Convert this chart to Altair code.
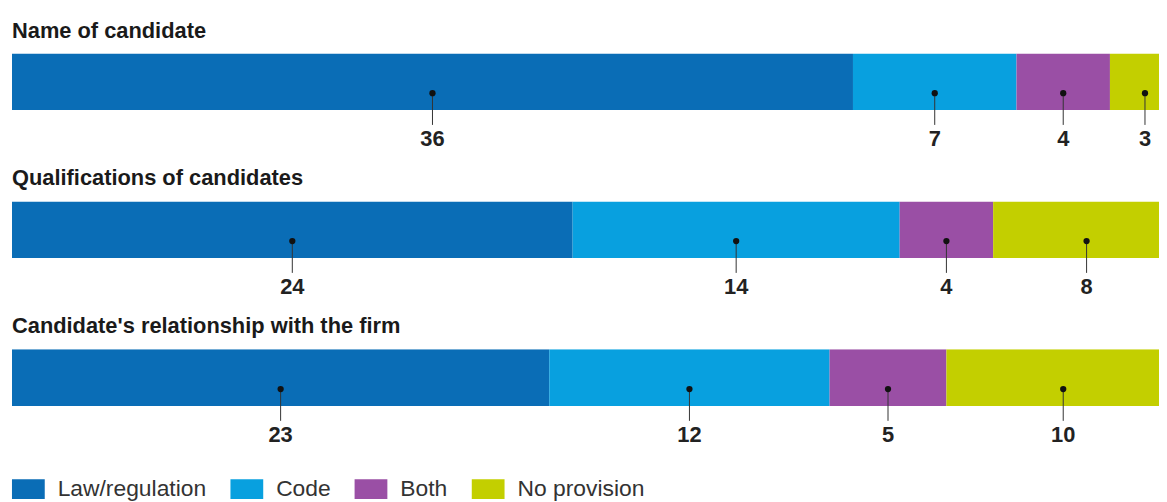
import altair as alt
import pandas as pd

rows = ["Name of candidate", "Qualifications of candidates", "Candidate's relationship with the firm"]
categories = ["Law/regulation", "Code", "Both", "No provision"]
colors = ["#0a6db6", "#08a0df", "#9a4fa5", "#c3cf00"]
vals_name = [36, 7, 4, 3]
vals_qual = [24, 14, 4, 8]
vals_rel = [23, 12, 5, 10]

records = []
for r, vals in zip(rows, [vals_name, vals_qual, vals_rel]):
    for i, (c, v) in enumerate(zip(categories, vals)):
        records.append({"row": r, "cat": c, "order": i, "value": v})
df = pd.DataFrame(records)

FONT = "Liberation Sans"
xscale = alt.Scale(domain=[0, 49.1], nice=False, zero=True)

base = alt.Chart().transform_stack(
    stack="value", as_=["x0", "x1"], groupby=["row"], sort=[alt.SortField("order")]
).transform_calculate(mid="(datum.x0 + datum.x1) / 2")

bars = base.mark_bar(clip=True, cornerRadius=0).encode(
    x=alt.X("x0:Q", scale=xscale, axis=None),
    x2="x1:Q",
    y=alt.value(0),
    y2=alt.value(57),
    color=alt.Color("cat:N", scale=alt.Scale(domain=categories, range=colors),
                    legend=alt.Legend(title=None)),
)

rule = base.mark_rule(color="#333333", strokeWidth=1).encode(
    x=alt.X("mid:Q", scale=xscale), y=alt.value(40), y2=alt.value(72)
)
dots = base.mark_point(filled=True, color="#111111", size=40, opacity=1).encode(
    x=alt.X("mid:Q", scale=xscale), y=alt.value(40)
)
labels = base.mark_text(font=FONT, fontSize=22, fontWeight="bold", color="#222222",
                        baseline="middle", align="center").encode(
    x=alt.X("mid:Q", scale=xscale), y=alt.value(86), text="value:Q"
)

layer = alt.layer(bars, rule, dots, labels).properties(width=1155, height=100)

chart = layer.facet(
    data=df,
    row=alt.Row("row:N", sort=rows,
                header=alt.Header(title=None, labelOrient="top", labelAngle=0,
                                  labelAnchor="start", labelAlign="left",
                                  labelFont=FONT, labelFontSize=22, labelFontWeight="bold",
                                  labelColor="#1a1a1a", labelPadding=-11)),
    spacing=15,
).properties(
    padding={"left": 4, "top": 10, "right": 0, "bottom": 0}
).configure_view(stroke=None).configure_legend(
    orient="bottom", direction="horizontal",
    symbolType="M-1,-0.6H1V0.6H-1Z", symbolSize=1089, symbolStrokeWidth=0, symbolOpacity=1,
    labelFont=FONT, labelFontSize=23, labelColor="#333333", labelOffset=13,
    columnPadding=24, offset=24,
)

chart.save("out.html", embed_options={"renderer": "svg", "actions": False})
